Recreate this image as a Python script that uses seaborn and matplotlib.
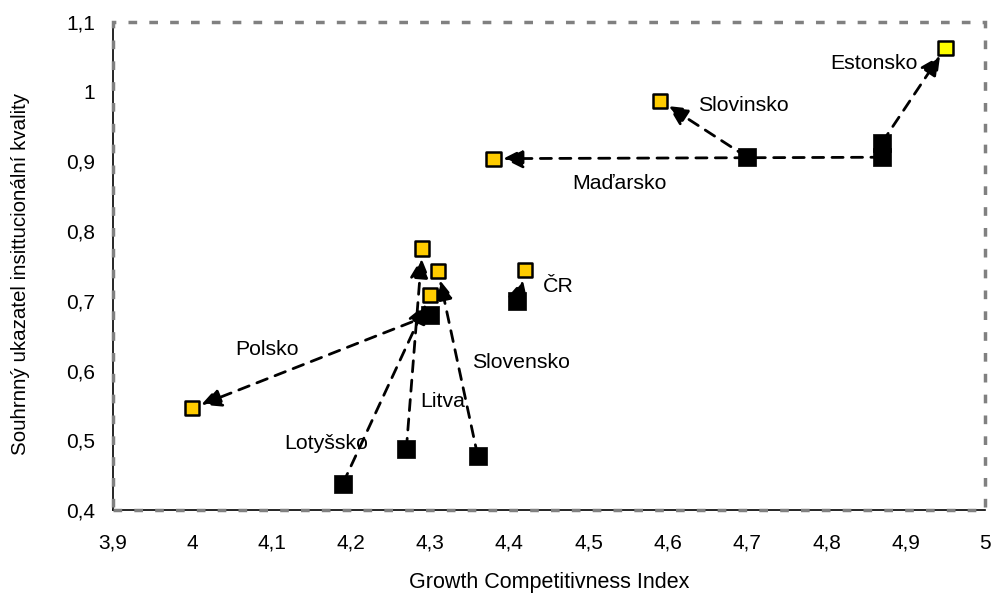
import matplotlib
matplotlib.use("Agg")
import matplotlib.pyplot as plt
import seaborn as sns
import pandas as pd
from matplotlib.patches import Rectangle

countries = ['Estonsko', 'Slovinsko', 'Maďarsko', 'ČR', 'Slovensko', 'Litva', 'Lotyšsko', 'Polsko']
start_x = [4.87, 4.70, 4.87, 4.41, 4.36, 4.27, 4.19, 4.30]
start_y = [0.927, 0.906, 0.906, 0.700, 0.478, 0.487, 0.438, 0.680]
end_x = [4.95, 4.59, 4.38, 4.42, 4.31, 4.29, 4.30, 4.00]
end_y = [1.063, 0.987, 0.904, 0.744, 0.743, 0.775, 0.708, 0.546]
label_x = [4.805, 4.638, 4.479, 4.442, 4.353, 4.287, 4.116, 4.054]
label_y = [1.041, 0.980, 0.868, 0.720, 0.612, 0.555, 0.495, 0.630]
end_colors = ['#FFFF00', '#FFCC00', '#FFCC00', '#FFCC00', '#FFCC00', '#FFCC00', '#FFCC00', '#FFCC00']

x_ticks = [3.9, 4.0, 4.1, 4.2, 4.3, 4.4, 4.5, 4.6, 4.7, 4.8, 4.9, 5.0]
x_ticklabels = ['3,9', '4', '4,1', '4,2', '4,3', '4,4', '4,5', '4,6', '4,7', '4,8', '4,9', '5']
y_ticks = [0.4, 0.5, 0.6, 0.7, 0.8, 0.9, 1.0, 1.1]
y_ticklabels = ['0,4', '0,5', '0,6', '0,7', '0,8', '0,9', '1', '1,1']

sns.set_theme(style="white")
plt.rcParams['font.family'] = ['Liberation Sans', 'DejaVu Sans']
plt.rcParams['text.color'] = 'black'
plt.rcParams['axes.labelcolor'] = 'black'

fig = plt.figure(figsize=(9.93, 5.96), dpi=100)
ax = fig.add_axes([0.1138, 0.1443, 0.992 - 0.1138, 0.9631 - 0.1443])

df_start = pd.DataFrame({'x': start_x, 'y': start_y, 'country': countries})
df_end = pd.DataFrame({'x': end_x, 'y': end_y, 'country': countries, 'c': end_colors})

# arrows
for i in range(len(countries)):
    ax.annotate('', xy=(end_x[i], end_y[i]), xytext=(start_x[i], start_y[i]),
                arrowprops=dict(arrowstyle='-|>,head_length=0.8,head_width=0.4',
                                mutation_scale=15, color='black', lw=2.0,
                                linestyle=(0, (4, 3)), shrinkA=0, shrinkB=7),
                zorder=2)

sns.scatterplot(data=df_start, x='x', y='y', marker='s', s=170, color='black',
                edgecolor='black', linewidth=0.5, ax=ax, zorder=3, legend=False)
sns.scatterplot(data=df_end, x='x', y='y', marker='s', s=105, hue='country',
                palette=dict(zip(countries, end_colors)),
                edgecolor='black', linewidth=1.8, ax=ax, zorder=4, legend=False)

for i, c in enumerate(countries):
    ax.text(label_x[i], label_y[i], c, fontsize=15.3, ha='left', va='center', color='black', zorder=5)

ax.set_xlim(3.9, 5.0)
ax.set_ylim(0.4, 1.1)
ax.set_xticks(x_ticks)
ax.set_xticklabels(x_ticklabels)
ax.set_yticks(y_ticks)
ax.set_yticklabels(y_ticklabels)
ax.tick_params(axis='both', length=0, labelsize=15, colors='black')
ax.tick_params(axis='x', pad=17)
ax.tick_params(axis='y', pad=13)

ax.set_xlabel('Growth Competitivness Index', fontsize=15.5, labelpad=14, color='black')
ax.set_ylabel('Souhrnný ukazatel insittucionální kvality', fontsize=14.8, color='black')
ax.yaxis.set_label_coords(-0.095, 0.484)

for s in ['top', 'right']:
    ax.spines[s].set_visible(False)
for s in ['left', 'bottom']:
    ax.spines[s].set_color('black')
    ax.spines[s].set_linewidth(1.2)

rect = Rectangle((0, 0), 1, 1, transform=ax.transAxes, fill=False,
                 edgecolor='#808080', linewidth=2.5, linestyle=(0, (2.5, 3.5)),
                 clip_on=False, zorder=6)
ax.add_patch(rect)

fig.savefig('out.png', dpi=100)
